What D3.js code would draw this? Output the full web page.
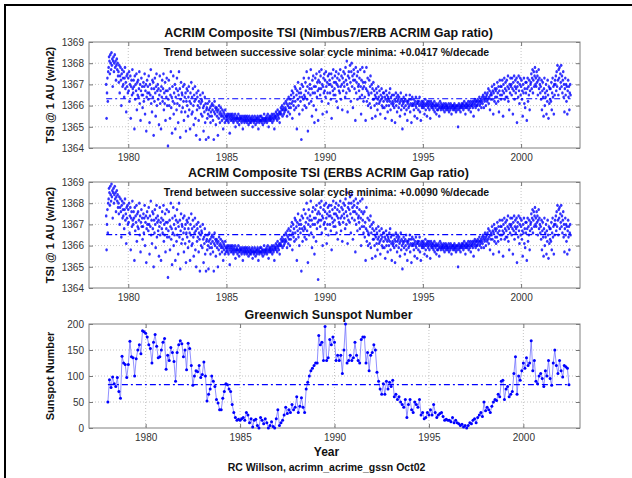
<!DOCTYPE html>
<html><head><meta charset="utf-8">
<script src="https://cdn.jsdelivr.net/npm/d3@7"></script>
<style>body{margin:0;background:#fff}svg{display:block}text{font-family:"Liberation Sans",Arial,Helvetica,sans-serif}</style>
</head><body><svg width="632" height="478"></svg>
<script>
// ---------- data ----------
const xTicks = [1980, 1985, 1990, 1995, 2000];
const tsiTicks = [1364, 1365, 1366, 1367, 1368, 1369];
const sspTicks = [0, 50, 100, 150, 200];

const tsiStart = 1978.875, tsiStep = 1 / 48;
// Nimbus7/ERB gap-ratio composite, 1978.875 - 1991.98 (one row per quarter year)
const tsiEarlyN7 = [
1367.0,1365.4,1366.6,1367.3,1366.2,1367.6,
1367.8,1368.3,1368.1,1367.5,1368.4,1368.0,1367.7,1368.5,1367.9,1368.2,1366.9,1368.1,
1368.3,1367.6,1368.0,1368.4,1367.8,1368.1,1367.2,1367.9,1368.2,1367.7,1368.0,1367.4,
1367.6,1367.1,1367.9,1366.6,1367.4,1367.8,1367.2,1366.0,1367.5,1367.7,1366.9,1367.3,
1367.0,1367.6,1366.4,1367.3,1367.8,1366.8,1367.1,1365.7,1367.4,1366.9,1367.5,1366.6,
1367.3,1366.7,1367.6,1366.2,1367.0,1367.4,1365.4,1366.9,1367.2,1366.5,1367.7,1366.8,
1366.6,1367.2,1366.9,1364.9,1367.4,1366.3,1367.0,1366.7,1367.5,1365.8,1367.1,1366.5,
1367.2,1366.4,1366.8,1367.6,1366.1,1367.0,1365.3,1366.7,1367.3,1366.5,1366.9,1365.9,
1366.5,1367.1,1366.2,1366.9,1367.5,1365.6,1366.7,1367.0,1364.8,1366.4,1367.2,1366.6,
1366.9,1366.3,1367.4,1366.6,1365.2,1367.0,1366.5,1367.7,1366.1,1366.8,1365.7,1367.2,
1366.4,1367.1,1364.6,1366.8,1366.2,1367.3,1366.6,1365.5,1366.9,1367.5,1366.0,1366.7,
1367.0,1366.3,1366.8,1365.1,1366.5,1367.4,1366.1,1366.7,1364.9,1366.9,1366.4,1367.2,
1366.2,1366.8,1367.5,1365.8,1366.6,1366.1,1367.1,1365.3,1366.7,1366.4,1367.3,1366.0,
1366.7,1364.1,1366.3,1367.2,1366.0,1366.8,1365.4,1366.5,1367.6,1365.9,1366.4,1364.7,
1366.9,1366.2,1367.4,1365.6,1366.6,1366.1,1367.0,1364.9,1366.4,1366.8,1365.8,1367.3,
1366.1,1366.7,1365.2,1366.5,1367.6,1366.0,1366.8,1364.5,1366.3,1367.1,1365.7,1366.6,
1366.5,1365.9,1366.9,1366.2,1365.3,1367.0,1366.4,1365.7,1366.6,1364.8,1366.2,1366.8,
1366.0,1366.7,1365.5,1366.4,1366.9,1365.8,1366.2,1364.9,1366.6,1366.1,1367.1,1365.6,
1366.4,1365.7,1366.8,1366.0,1365.1,1366.5,1366.2,1366.9,1365.4,1366.3,1364.6,1366.6,
1365.8,1366.4,1366.0,1366.7,1365.3,1366.2,1365.9,1364.4,1366.5,1366.1,1365.6,1366.3,
1366.2,1365.5,1366.6,1365.9,1364.8,1366.0,1365.7,1366.4,1365.2,1366.1,1364.4,1365.8,
1365.9,1365.4,1366.1,1365.6,1364.5,1365.8,1366.2,1365.5,1365.9,1365.2,1365.7,1366.0,
1365.5,1366.1,1365.8,1365.3,1366.0,1364.4,1365.7,1366.2,1365.6,1365.9,1365.1,1365.8,
1365.9,1365.5,1365.7,1364.6,1365.8,1365.4,1366.0,1365.6,1365.2,1365.7,1365.9,1365.5,
1365.6,1365.3,1365.8,1365.5,1364.9,1365.7,1365.4,1365.6,1365.2,1365.8,1365.5,1365.3,
1365.5,1365.4,1365.6,1365.3,1365.5,1365.2,1365.6,1365.4,1364.7,1365.5,1365.3,1365.6,
1365.4,1365.5,1365.3,1365.6,1365.4,1365.2,1365.5,1365.3,1365.4,1365.6,1365.0,1365.4,
1365.3,1365.5,1365.4,1365.2,1365.4,1365.6,1365.3,1365.1,1365.4,1365.5,1365.3,1365.4,
1365.4,1365.2,1365.5,1365.3,1364.9,1365.4,1365.3,1365.5,1365.2,1365.4,1365.3,1365.5,
1365.3,1365.4,1365.2,1365.5,1365.3,1365.4,1365.1,1365.3,1365.5,1365.2,1365.4,1365.3,
1365.2,1365.4,1365.3,1365.5,1365.0,1365.3,1365.4,1365.2,1365.3,1365.5,1365.3,1365.1,
1365.4,1365.3,1365.2,1365.4,1365.5,1365.3,1364.9,1365.4,1365.2,1365.3,1365.5,1365.3,
1365.3,1365.5,1365.2,1365.4,1365.3,1365.1,1365.4,1365.3,1365.6,1365.2,1365.4,1365.3,
1365.4,1365.3,1365.5,1365.2,1365.4,1365.6,1365.3,1365.0,1365.4,1365.5,1365.3,1365.4,
1365.5,1365.3,1365.4,1365.6,1365.2,1365.5,1365.4,1365.3,1365.6,1364.9,1365.4,1365.5,
1365.5,1365.7,1365.4,1365.6,1365.3,1365.8,1365.5,1365.6,1365.4,1365.7,1365.2,1365.6,
1365.7,1365.9,1365.6,1365.8,1366.0,1365.5,1365.8,1365.9,1365.6,1366.1,1365.7,1365.8,
1365.9,1366.2,1365.8,1366.1,1365.5,1366.3,1366.0,1365.7,1366.4,1365.9,1366.1,1365.6,
1366.3,1365.9,1366.5,1366.1,1366.7,1365.4,1366.2,1366.6,1366.0,1366.4,1365.8,1366.9,
1366.2,1366.8,1365.9,1366.5,1364.9,1366.7,1366.3,1367.1,1366.0,1366.6,1365.6,1366.4,
1366.8,1366.2,1366.6,1364.4,1367.0,1366.4,1365.8,1366.9,1366.3,1367.3,1366.5,1366.0,
1366.4,1367.1,1366.7,1365.9,1367.6,1366.3,1366.9,1364.8,1366.6,1367.3,1366.1,1366.8,
1367.0,1366.5,1367.7,1366.2,1366.8,1365.5,1367.2,1366.6,1367.4,1366.0,1366.9,1365.2,
1366.6,1367.3,1366.9,1365.8,1367.5,1366.4,1367.1,1366.7,1365.3,1367.2,1366.8,1367.6,
1367.1,1366.5,1367.4,1366.8,1367.7,1366.2,1367.0,1365.6,1366.9,1367.3,1366.6,1367.5,
1366.7,1367.2,1366.4,1367.6,1366.9,1365.7,1367.1,1366.6,1367.4,1366.1,1367.0,1367.5,
1367.2,1366.6,1367.0,1366.3,1367.5,1365.4,1366.9,1367.3,1366.7,1367.7,1366.5,1367.1,
1366.8,1367.4,1366.5,1367.1,1367.6,1366.2,1367.0,1367.3,1365.9,1366.9,1367.5,1366.7,
1367.2,1366.6,1367.7,1366.9,1366.3,1367.4,1367.0,1365.8,1367.3,1366.7,1367.6,1367.1,
1366.9,1367.5,1366.4,1367.8,1367.2,1366.6,1368.1,1367.0,1365.7,1367.4,1366.8,1367.6,
1367.3,1366.7,1367.9,1367.1,1366.2,1367.6,1368.0,1366.9,1367.4,1365.9,1367.2,1367.7,
1367.5,1366.8,1367.2,1365.3,1367.8,1366.6,1367.1,1367.4,1366.3,1367.6,1366.9,1367.0,
1366.7,1367.3,1366.4,1367.7,1366.9,1365.6,1367.2,1366.5,1367.8,1366.8,1367.1,1366.2
];
// ERBS gap-ratio composite, 1978.875 - 1991.98 (one row per quarter year)
const tsiEarlyERBS = [
1367.4,1365.8,1367.0,1367.7,1366.6,1368.0,
1368.2,1368.7,1368.5,1367.9,1368.8,1368.4,1368.1,1368.9,1368.3,1368.6,1367.3,1368.5,
1368.7,1368.0,1368.4,1368.8,1368.2,1368.5,1367.6,1368.3,1368.6,1368.1,1368.4,1367.8,
1368.0,1367.5,1368.3,1367.0,1367.8,1368.2,1367.6,1366.4,1367.9,1368.1,1367.3,1367.7,
1367.4,1368.0,1366.8,1367.7,1368.2,1367.2,1367.5,1366.1,1367.8,1367.3,1367.9,1367.0,
1367.7,1367.1,1368.0,1366.6,1367.4,1367.8,1365.8,1367.3,1367.6,1366.9,1368.1,1367.2,
1367.0,1367.6,1367.3,1365.3,1367.8,1366.7,1367.4,1367.1,1367.9,1366.2,1367.5,1366.9,
1367.6,1366.8,1367.2,1368.0,1366.5,1367.4,1365.7,1367.1,1367.7,1366.9,1367.3,1366.3,
1366.9,1367.5,1366.6,1367.3,1367.9,1366.0,1367.1,1367.4,1365.2,1366.8,1367.6,1367.0,
1367.3,1366.7,1367.8,1367.0,1365.6,1367.4,1366.9,1368.1,1366.5,1367.2,1366.1,1367.6,
1366.8,1367.5,1365.0,1367.2,1366.6,1367.7,1367.0,1365.9,1367.3,1367.9,1366.4,1367.1,
1367.4,1366.7,1367.2,1365.5,1366.9,1367.8,1366.5,1367.1,1365.3,1367.3,1366.8,1367.6,
1366.6,1367.2,1367.9,1366.2,1367.0,1366.5,1367.5,1365.7,1367.1,1366.8,1367.7,1366.4,
1367.1,1364.5,1366.7,1367.6,1366.4,1367.2,1365.8,1366.9,1368.0,1366.3,1366.8,1365.1,
1367.3,1366.6,1367.8,1366.0,1367.0,1366.5,1367.4,1365.3,1366.8,1367.2,1366.2,1367.7,
1366.5,1367.1,1365.6,1366.9,1368.0,1366.4,1367.2,1364.9,1366.7,1367.5,1366.1,1367.0,
1366.9,1366.3,1367.3,1366.6,1365.7,1367.4,1366.8,1366.1,1367.0,1365.2,1366.6,1367.2,
1366.4,1367.1,1365.9,1366.8,1367.3,1366.2,1366.6,1365.3,1367.0,1366.5,1367.5,1366.0,
1366.8,1366.1,1367.2,1366.4,1365.5,1366.9,1366.6,1367.3,1365.8,1366.7,1365.0,1367.0,
1366.2,1366.8,1366.4,1367.1,1365.7,1366.6,1366.3,1364.8,1366.9,1366.5,1366.0,1366.7,
1366.6,1365.9,1367.0,1366.3,1365.2,1366.4,1366.1,1366.8,1365.6,1366.5,1364.8,1366.2,
1366.3,1365.8,1366.5,1366.0,1364.9,1366.2,1366.6,1365.9,1366.3,1365.6,1366.1,1366.4,
1365.9,1366.5,1366.2,1365.7,1366.4,1364.8,1366.1,1366.6,1366.0,1366.3,1365.5,1366.2,
1366.3,1365.9,1366.1,1365.0,1366.2,1365.8,1366.4,1366.0,1365.6,1366.1,1366.3,1365.9,
1366.0,1365.7,1366.2,1365.9,1365.3,1366.1,1365.8,1366.0,1365.6,1366.2,1365.9,1365.7,
1365.9,1365.8,1366.0,1365.7,1365.9,1365.6,1366.0,1365.8,1365.1,1365.9,1365.7,1366.0,
1365.8,1365.9,1365.7,1366.0,1365.8,1365.6,1365.9,1365.7,1365.8,1366.0,1365.4,1365.8,
1365.7,1365.9,1365.8,1365.6,1365.8,1366.0,1365.7,1365.5,1365.8,1365.9,1365.7,1365.8,
1365.8,1365.6,1365.9,1365.7,1365.3,1365.8,1365.7,1365.9,1365.6,1365.8,1365.7,1365.9,
1365.7,1365.8,1365.6,1365.9,1365.7,1365.8,1365.5,1365.7,1365.9,1365.6,1365.8,1365.7,
1365.6,1365.8,1365.7,1365.9,1365.4,1365.7,1365.8,1365.6,1365.7,1365.9,1365.7,1365.5,
1365.8,1365.7,1365.6,1365.8,1365.9,1365.7,1365.3,1365.8,1365.6,1365.7,1365.9,1365.7,
1365.7,1365.9,1365.6,1365.8,1365.7,1365.5,1365.8,1365.7,1366.0,1365.6,1365.8,1365.7,
1365.8,1365.7,1365.9,1365.6,1365.8,1366.0,1365.7,1365.4,1365.8,1365.9,1365.7,1365.8,
1365.9,1365.7,1365.8,1366.0,1365.6,1365.9,1365.8,1365.7,1366.0,1365.3,1365.8,1365.9,
1365.9,1366.1,1365.8,1366.0,1365.7,1366.2,1365.9,1366.0,1365.8,1366.1,1365.6,1366.0,
1366.1,1366.3,1366.0,1366.2,1366.4,1365.9,1366.2,1366.3,1366.0,1366.5,1366.1,1366.2,
1366.3,1366.6,1366.2,1366.5,1365.9,1366.7,1366.4,1366.1,1366.8,1366.3,1366.5,1366.0,
1366.7,1366.3,1366.9,1366.5,1367.1,1365.8,1366.6,1367.0,1366.4,1366.8,1366.2,1367.3,
1366.6,1367.2,1366.3,1366.9,1365.3,1367.1,1366.7,1367.5,1366.4,1367.0,1366.0,1366.8,
1367.2,1366.6,1367.0,1364.8,1367.4,1366.8,1366.2,1367.3,1366.7,1367.7,1366.9,1366.4,
1366.8,1367.5,1367.1,1366.3,1368.0,1366.7,1367.3,1365.2,1367.0,1367.7,1366.5,1367.2,
1367.4,1366.9,1368.1,1366.6,1367.2,1365.9,1367.6,1367.0,1367.8,1366.4,1367.3,1365.6,
1367.0,1367.7,1367.3,1366.2,1367.9,1366.8,1367.5,1367.1,1364.4,1367.6,1367.2,1368.0,
1367.5,1366.9,1367.8,1367.2,1368.1,1366.6,1367.4,1366.0,1367.3,1367.7,1367.0,1367.9,
1367.1,1367.6,1366.8,1368.0,1367.3,1366.1,1367.5,1367.0,1367.8,1366.5,1367.4,1367.9,
1367.6,1367.0,1367.4,1366.7,1367.9,1365.8,1367.3,1367.7,1367.1,1368.1,1366.9,1367.5,
1367.2,1367.8,1366.9,1367.5,1368.0,1366.6,1367.4,1367.7,1366.3,1367.3,1367.9,1367.1,
1367.6,1367.0,1368.1,1367.3,1366.7,1367.8,1367.4,1366.2,1367.7,1367.1,1368.0,1367.5,
1367.3,1367.9,1366.8,1368.2,1367.6,1367.0,1368.5,1367.4,1366.1,1367.8,1367.2,1368.0,
1367.7,1367.1,1368.3,1367.5,1366.6,1368.0,1368.4,1367.3,1367.8,1366.3,1367.6,1368.1,
1367.9,1367.2,1367.6,1365.7,1368.2,1367.0,1367.5,1367.8,1366.7,1368.0,1367.3,1367.4,
1367.1,1367.7,1366.8,1368.1,1367.3,1366.0,1367.6,1366.9,1368.2,1367.2,1367.5,1366.6
];
// both composites coincide after the ACRIM gap, 1992.0 - 2002.52
const tsiLate = [
1366.9,1367.6,1366.4,1367.1,1365.3,1366.8,1367.8,1366.2,1366.7,1367.3,1366.0,1366.6,
1366.5,1367.2,1366.1,1366.9,1367.4,1365.9,1366.6,1367.0,1365.4,1366.8,1366.3,1367.1,
1366.3,1366.7,1366.0,1366.5,1365.5,1366.4,1366.8,1366.1,1366.6,1365.8,1366.3,1366.9,
1366.4,1366.1,1366.7,1366.2,1365.6,1366.5,1366.3,1366.8,1366.0,1366.4,1365.9,1366.6,
1366.2,1366.6,1365.9,1366.4,1365.4,1366.3,1366.7,1366.0,1366.5,1366.2,1365.7,1366.4,
1366.3,1366.0,1366.6,1366.2,1366.8,1365.8,1366.4,1366.1,1365.3,1366.5,1366.2,1366.0,
1366.1,1366.5,1365.9,1366.3,1365.2,1366.2,1366.6,1366.0,1366.4,1365.7,1366.2,1366.5,
1366.3,1365.9,1366.4,1366.1,1365.5,1366.2,1366.6,1365.8,1366.3,1366.0,1364.9,1366.2,
1366.1,1366.4,1365.9,1366.2,1365.6,1366.3,1366.0,1366.5,1365.8,1366.2,1365.3,1366.1,
1366.2,1365.9,1366.3,1366.0,1366.5,1365.7,1366.1,1366.3,1365.2,1366.0,1366.4,1366.1,
1366.0,1366.3,1365.8,1366.1,1365.5,1366.2,1366.0,1366.4,1365.9,1366.1,1365.4,1366.2,
1366.1,1365.8,1366.2,1366.0,1366.4,1365.7,1366.1,1365.3,1366.0,1366.2,1365.9,1366.1,
1366.0,1366.2,1365.9,1366.1,1365.6,1366.0,1366.3,1365.8,1366.1,1366.0,1365.5,1366.2,
1366.1,1365.9,1366.0,1366.2,1365.8,1366.1,1365.4,1366.0,1366.2,1365.9,1366.1,1366.0,
1365.9,1366.1,1365.8,1366.0,1366.2,1365.7,1366.0,1365.9,1366.1,1365.6,1366.0,1365.8,
1366.0,1365.8,1366.1,1365.9,1365.5,1366.0,1366.2,1365.9,1365.8,1366.1,1365.9,1366.0,
1365.9,1366.0,1365.8,1366.1,1365.9,1365.7,1366.0,1365.9,1366.1,1365.8,1366.0,1365.9,
1366.0,1365.8,1365.9,1366.1,1365.7,1365.9,1366.0,1365.8,1366.1,1365.9,1365.6,1366.0,
1365.9,1366.0,1365.8,1366.0,1365.9,1366.1,1365.8,1365.9,1366.0,1365.7,1365.9,1366.0,
1365.8,1366.0,1365.0,1365.9,1366.1,1365.8,1366.0,1365.9,1365.7,1366.0,1365.9,1366.1,
1366.0,1365.9,1366.1,1365.8,1366.0,1366.2,1365.9,1366.0,1365.6,1366.1,1365.9,1366.0,
1366.1,1365.9,1366.0,1366.2,1365.8,1366.0,1366.1,1365.9,1366.2,1365.7,1366.0,1366.1,
1366.0,1366.2,1365.9,1366.1,1365.5,1366.2,1366.0,1366.3,1366.1,1365.9,1366.2,1366.0,
1366.2,1366.0,1366.3,1366.1,1365.8,1366.2,1366.4,1366.0,1366.2,1366.1,1366.3,1365.9,
1366.2,1366.4,1366.1,1366.5,1366.3,1365.9,1366.4,1366.2,1366.6,1366.3,1366.0,1366.4,
1366.5,1366.2,1366.6,1366.3,1366.8,1366.1,1366.4,1366.7,1365.8,1366.5,1366.3,1366.6,
1366.5,1366.9,1366.3,1366.7,1365.6,1366.6,1367.0,1366.2,1366.8,1366.4,1366.7,1366.1,
1366.8,1366.4,1367.1,1366.6,1366.2,1366.9,1365.7,1366.7,1367.2,1366.5,1366.9,1366.3,
1366.9,1366.5,1367.2,1366.7,1365.5,1367.0,1366.6,1367.3,1366.3,1366.8,1367.1,1366.4,
1366.7,1367.2,1366.4,1366.9,1367.4,1366.2,1366.8,1365.8,1367.0,1366.6,1367.3,1366.9,
1367.0,1366.5,1367.3,1366.8,1365.6,1367.1,1366.7,1367.4,1366.3,1366.9,1367.2,1366.6,
1366.8,1367.3,1365.2,1366.9,1367.1,1366.4,1367.4,1366.7,1366.1,1367.0,1367.3,1366.5,
1366.9,1367.2,1366.3,1366.7,1365.5,1367.0,1366.6,1367.3,1366.1,1366.8,1365.9,1367.1,
1366.6,1367.1,1365.3,1366.8,1367.3,1366.2,1366.9,1366.5,1367.2,1365.8,1366.7,1367.0,
1367.1,1367.5,1366.8,1367.3,1367.7,1366.6,1367.2,1367.6,1366.9,1367.4,1367.8,1367.0,
1367.3,1366.9,1367.6,1367.1,1367.4,1366.5,1367.2,1367.7,1366.8,1367.3,1367.0,1366.6,
1366.9,1366.3,1367.2,1365.8,1366.7,1367.1,1366.4,1365.5,1366.8,1367.3,1366.0,1366.6,
1366.4,1367.0,1365.6,1366.7,1366.2,1367.2,1366.5,1365.4,1366.9,1366.1,1366.8,1366.3,
1366.8,1366.2,1367.1,1365.8,1366.6,1367.3,1366.4,1366.9,1365.6,1367.0,1366.5,1367.2,
1367.0,1367.4,1366.7,1367.6,1366.9,1367.9,1367.2,1366.5,1367.7,1367.3,1367.8,1366.8,
1367.5,1367.1,1367.9,1366.9,1367.4,1366.6,1367.2,1367.6,1366.4,1367.0,1365.7,1366.8,1367.3,
1366.5,1367.0,1366.2,1366.9,1365.6,1366.7,1367.2,1366.4,1366.9,1365.8,1366.6,1367.0,1366.5
];
const tsiMeanN7 = 1366.32, tsiMeanERBS = 1366.52;

const sspStart = 1978.0, sspStep = 1 / 12;
const sunspots = [
50,93,78,98,85,80,97,70,57,138,125,122,
97,122,167,137,135,100,133,150,160,143,187,185,
182,175,160,153,125,165,180,157,135,137,150,165,
172,113,140,130,155,145,128,90,145,160,168,162,
137,150,112,163,153,120,82,100,110,108,120,97,
103,127,100,52,65,75,100,90,80,55,48,35,
35,57,70,85,83,75,70,45,30,20,15,17,
15,18,20,15,30,25,10,18,2,15,17,5,
0,20,15,8,18,10,0,5,12,3,0,18,
35,5,10,15,25,40,28,35,30,45,35,40,
60,30,42,58,40,30,75,88,100,110,115,120,
125,125,178,160,165,130,195,130,135,170,160,175,
165,130,140,130,140,105,150,200,125,130,140,130,
135,165,140,130,125,170,175,175,125,145,110,140,
145,160,150,107,90,75,65,85,65,90,75,88,
80,92,60,65,55,60,50,45,40,55,20,45,
55,35,30,50,45,40,55,25,30,18,20,30,
25,35,25,45,30,20,25,28,30,22,15,17,
15,15,12,20,10,15,10,8,5,7,2,5,
0,5,10,8,15,18,10,20,25,30,22,50,
33,40,35,30,42,50,55,53,65,60,90,92,
55,75,80,60,65,70,105,137,65,100,92,110,
125,115,135,120,125,168,110,130,90,85,100,105,
95,80,110,100,130,95,82,125,150,120,105,130,
110,98,120,118,115,83
];
const sspMean = 83.5;

const panelTitles = ["ACRIM Composite TSI (Nimbus7/ERB ACRIM Gap ratio)",
                     "ACRIM Composite TSI (ERBS ACRIM Gap ratio)",
                     "Greenwich Sunspot Number"];
const trendTexts = ["Trend between successive solar cycle minima: +0.0417 %/decade",
                    "Trend between successive solar cycle minima: +0.0090 %/decade"];
const yLabels = ["TSI @ 1 AU (w/m2)", "TSI @ 1 AU (w/m2)", "Sunspot Number"];

// ---------- drawing ----------
const svg = d3.select("svg");
const defs = svg.append("defs");
defs.append("filter").attr("id", "soft").attr("x", "-5%").attr("y", "-5%").attr("width", "110%").attr("height", "110%")
  .append("feGaussianBlur").attr("stdDeviation", 0.35);

svg.append("rect").attr("x", 5).attr("y", 5).attr("width", 700).attr("height", 600)
  .attr("fill", "none").attr("stroke", "#000").attr("stroke-width", 2);

const L = 89, R = 580;
const BLUE = "#0000ff";

function panel(top, bottom, xDom, yDom, yTicks, title, yLabel) {
  const x = d3.scaleLinear().domain(xDom).range([L, R]);
  const y = d3.scaleLinear().domain(yDom).range([bottom, top]);
  const g = svg.append("g");
  g.selectAll(null).data(xTicks).join("line")
    .attr("x1", d => x(d)).attr("x2", d => x(d)).attr("y1", top).attr("y2", bottom)
    .attr("stroke", "#c4c4c4").attr("stroke-dasharray", "1,2");
  g.selectAll(null).data(yTicks.slice(1, -1)).join("line")
    .attr("y1", d => y(d)).attr("y2", d => y(d)).attr("x1", L).attr("x2", R)
    .attr("stroke", "#c4c4c4").attr("stroke-dasharray", "1,2");
  const style = a => {
    a.select(".domain").remove();
    a.selectAll("line").attr("stroke", "#777");
    a.selectAll("text").attr("fill", "#333").style("font-size", "10px")
      .style("font-family", '"Liberation Sans",Arial,sans-serif');
  };
  g.append("g").attr("transform", `translate(0,${bottom})`)
    .call(d3.axisBottom(x).tickValues(xTicks).tickFormat(d3.format("d")).tickSize(-4).tickPadding(6)).call(style);
  g.append("g").attr("transform", `translate(0,${top})`)
    .call(d3.axisTop(x).tickValues(xTicks).tickFormat("").tickSize(-4)).call(style);
  g.append("g").attr("transform", `translate(${L},0)`)
    .call(d3.axisLeft(y).tickValues(yTicks).tickFormat(d3.format("d")).tickSize(-4).tickPadding(5)).call(style);
  g.append("g").attr("transform", `translate(${R},0)`)
    .call(d3.axisRight(y).tickValues(yTicks).tickFormat("").tickSize(-4)).call(style);
  g.append("rect").attr("x", L).attr("y", top).attr("width", R - L).attr("height", bottom - top)
    .attr("fill", "none").attr("stroke", "#808080");
  svg.append("text").attr("x", (L + R) / 2 - 6).attr("y", top - 5).attr("text-anchor", "middle")
    .style("font-size", "12.5px").style("font-weight", "bold").attr("fill", "#111").text(title);
  svg.append("text").attr("transform", `translate(${L - 35},${(top + bottom) / 2}) rotate(-90)`)
    .attr("text-anchor", "middle").style("font-size", "11px").style("font-weight", "bold")
    .attr("fill", "#111").text(yLabel);
  return {x, y, g};
}

function tsiPanel(top, bottom, early, mean, title, trend) {
  const {x, y, g} = panel(top, bottom, [1978, 2003], [1364, 1369], tsiTicks, title, yLabels[0]);
  const vals = early.concat(tsiLate);
  const pts = vals.map((v, i) => ({t: tsiStart + i * tsiStep, v}));
  g.append("g").attr("filter", "url(#soft)").selectAll("ellipse").data(pts).join("ellipse")
    .attr("cx", d => x(d.t)).attr("cy", d => y(d.v)).attr("rx", 1.3).attr("ry", 1.6)
    .attr("fill", BLUE).attr("fill-opacity", 0.8);
  const t0 = pts[0].t, t1 = pts[pts.length - 1].t;
  g.append("line").attr("x1", x(t0)).attr("x2", x(t1)).attr("y1", y(mean)).attr("y2", y(mean))
    .attr("stroke", BLUE).attr("stroke-width", 1.1).attr("stroke-dasharray", "6,3,2,3");
  svg.append("text").attr("x", (L + R) / 2 - 8).attr("y", top + 14).attr("text-anchor", "middle")
    .style("font-size", "10.5px").style("font-weight", "bold").attr("fill", "#111").text(trend);
}

tsiPanel(42, 148, tsiEarlyN7, tsiMeanN7, panelTitles[0], trendTexts[0]);
tsiPanel(182, 288, tsiEarlyERBS, tsiMeanERBS, panelTitles[1], trendTexts[1]);

(function () {
  const {x, y, g} = panel(324, 428, [1977, 2003], [0, 200], sspTicks, panelTitles[2], yLabels[2]);
  const pts = sunspots.map((v, i) => ({t: sspStart + i * sspStep, v}));
  g.append("path").datum(pts)
    .attr("d", d3.line().x(d => x(d.t)).y(d => y(d.v)))
    .attr("fill", "none").attr("stroke", "#6060ff").attr("stroke-width", 0.7);
  g.append("g").selectAll("circle").data(pts).join("circle")
    .attr("cx", d => x(d.t)).attr("cy", d => y(d.v)).attr("r", 1.5).attr("fill", BLUE);
  g.append("line").attr("x1", x(pts[0].t)).attr("x2", x(pts[pts.length - 1].t))
    .attr("y1", y(sspMean)).attr("y2", y(sspMean))
    .attr("stroke", BLUE).attr("stroke-width", 1.1).attr("stroke-dasharray", "6,3,2,3");
  svg.append("text").attr("x", (L + R) / 2 - 8).attr("y", 456).attr("text-anchor", "middle")
    .style("font-size", "12px").style("font-weight", "bold").attr("fill", "#111").text("Year");
  svg.append("text").attr("x", (L + R) / 2 - 8).attr("y", 471).attr("text-anchor", "middle")
    .style("font-size", "10.5px").style("font-weight", "bold").attr("fill", "#111")
    .text("RC Willson, acrimn_acrime_gssn  Oct02");
})();
</script></body></html>
